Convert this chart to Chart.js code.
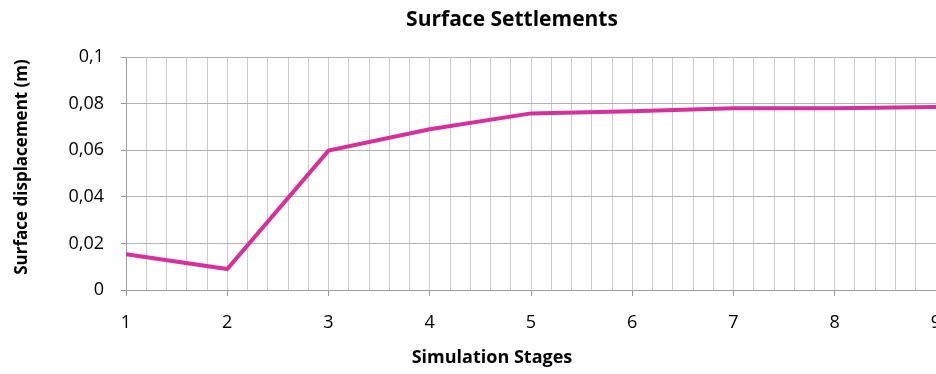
<!DOCTYPE html>
<html>
<head>
<meta charset="utf-8">
<script src="https://cdn.jsdelivr.net/npm/chart.js@4.4.1/dist/chart.umd.min.js"></script>
<style>
  html, body { margin: 0; padding: 0; background: #fff; overflow: hidden; }
  #wrap { position: relative; width: 936px; height: 374px; }
</style>
</head>
<body>
<div id="wrap"><canvas id="c"></canvas></div>
<script>
const stages = [1, 2, 3, 4, 5, 6, 7, 8, 9];
const displacement = [0.0154, 0.0090, 0.0598, 0.0690, 0.0758, 0.0767, 0.0780, 0.0780, 0.0785];
const yTicks = [0, 0.02, 0.04, 0.06, 0.08, 0.1];
const chartTitle = 'Surface Settlements';
const xTitle = 'Simulation Stages';
const yTitle = 'Surface displacement (m)';

const FONT = '"Open Sans", sans-serif';
const isInt = v => Math.abs(v - Math.round(v)) < 1e-6;

const titlesPlugin = {
  id: 'titles',
  afterDraw(chart) {
    const ctx = chart.ctx;
    ctx.save();
    ctx.fillStyle = '#000';
    ctx.textAlign = 'center';
    ctx.textBaseline = 'middle';
    ctx.font = 'bold 21px ' + FONT;
    ctx.fillText(chartTitle, 512, 20);
    ctx.font = 'bold 18px ' + FONT;
    ctx.fillText(xTitle, 492, 358);
    ctx.translate(22, 167);
    ctx.rotate(-Math.PI / 2);
    ctx.font = 'bold 17px ' + FONT;
    ctx.fillText(yTitle, 0, 0);
    ctx.restore();
  }
};

new Chart(document.getElementById('c'), {
  type: 'line',
  data: {
    datasets: [{
      data: stages.map((s, i) => ({ x: s, y: displacement[i] })),
      borderColor: '#d6309b',
      borderWidth: 4,
      pointRadius: 0,
      tension: 0,
      fill: false
    }]
  },
  plugins: [titlesPlugin],
  options: {
    responsive: true,
    maintainAspectRatio: false,
    animation: false,
    layout: { padding: { left: 0, right: 0, top: 57, bottom: 0 } },
    plugins: {
      legend: { display: false },
      tooltip: { enabled: false },
      title: { display: false }
    },
    scales: {
      x: {
        type: 'linear',
        min: 1,
        max: 9,
        afterFit: axis => { axis.height = 84; axis.paddingLeft = 0; axis.paddingRight = 0; },
        ticks: {
          stepSize: 0.2,
          autoSkip: false,
          maxRotation: 0,
          color: '#000',
          font: { family: FONT, size: 18 },
          padding: 16,
          callback: v => isInt(v) ? String(Math.round(v)) : ''
        },
        grid: {
          color: '#cccccc',
          lineWidth: 1,
          tickLength: 6,
          tickColor: ctx => isInt(ctx.tick.value) ? '#9a9a9a' : 'rgba(0,0,0,0)'
        },
        border: { color: '#a0a0a0', width: 1 }
      },
      y: {
        min: 0,
        max: 0.1,
        afterBuildTicks: axis => { axis.ticks = yTicks.map(v => ({ value: v })); },
        afterFit: axis => { axis.width = 126; axis.paddingTop = 0; axis.paddingBottom = 0; },
        ticks: {
          color: '#000',
          font: { family: FONT, size: 18 },
          padding: 17,
          callback: v => v === 0 ? '0' : String(+v.toFixed(2)).replace('.', ',')
        },
        grid: {
          color: '#b4b4b4',
          lineWidth: 1,
          tickLength: 5,
          tickColor: '#9a9a9a'
        },
        border: { color: '#a0a0a0', width: 1 }
      }
    }
  }
});
</script>
</body>
</html>
